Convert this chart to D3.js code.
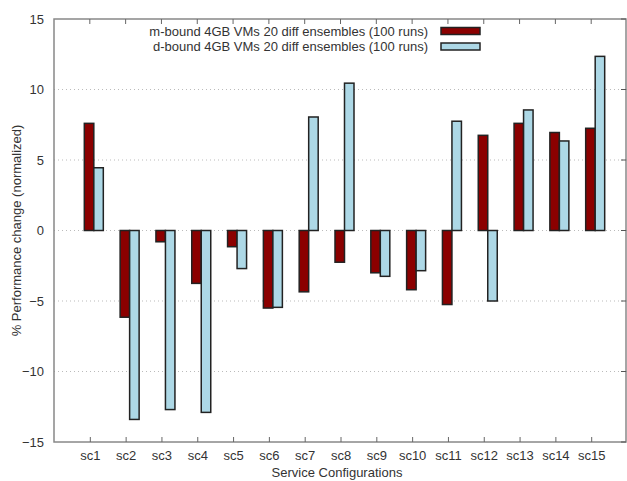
<!DOCTYPE html>
<html>
<head>
<meta charset="utf-8">
<script src="https://cdn.jsdelivr.net/npm/d3@7"></script>
<style>
  body { margin: 0; background: #fff; }
  text { font-family: "Liberation Sans", Arial, sans-serif; fill: #333; }
</style>
</head>
<body>
<svg id="chart" width="627" height="481"></svg>
<script>
var categories = ["sc1","sc2","sc3","sc4","sc5","sc6","sc7","sc8","sc9","sc10","sc11","sc12","sc13","sc14","sc15"];
var mBound = [7.6, -6.15, -0.8, -3.75, -1.15, -5.5, -4.35, -2.25, -3.0, -4.2, -5.25, 6.75, 7.6, 6.95, 7.25];
var dBound = [4.45, -13.4, -12.7, -12.9, -2.7, -5.45, 8.05, 10.45, -3.25, -2.85, 7.75, -5.0, 8.55, 6.35, 12.35];
var seriesNames = ["m-bound 4GB VMs 20 diff ensembles (100 runs)", "d-bound 4GB VMs 20 diff ensembles (100 runs)"];
var yTicks = [-15, -10, -5, 0, 5, 10, 15];
var colors = ["#8b0000", "#add8e6"];

var svg = d3.select("#chart");
// note: "top" clashes with window.top, so use plot* names
var plotL = 54, plotR = 627, plotT = 19, plotB = 442;

// x in category index units, gnuplot style range -1..15
var x = d3.scaleLinear().domain([-1, categories.length]).range([plotL, plotR]);
var y = d3.scaleLinear().domain([-15, 15]).range([plotB, plotT]);

// dotted grid
svg.append("g").selectAll("line")
  .data(yTicks.filter(function(d) { return d > -15 && d < 15; }))
  .enter().append("line")
  .attr("x1", plotL).attr("x2", plotR)
  .attr("y1", function(d) { return y(d); })
  .attr("y2", function(d) { return y(d); })
  .attr("stroke", "#bbb")
  .attr("stroke-width", 1)
  .attr("stroke-dasharray", "1,3");

// bars: red left of tick, blue right of it
var barW = 9.5;
var offsets = [-5.5, 4];
[mBound, dBound].forEach(function(vals, s) {
  svg.append("g").selectAll("rect")
    .data(vals)
    .enter().append("rect")
    .attr("x", function(d, i) { return x(i) + offsets[s]; })
    .attr("width", barW)
    .attr("y", function(d) { return y(Math.max(0, d)); })
    .attr("height", function(d) { return Math.abs(y(d) - y(0)); })
    .attr("fill", colors[s])
    .attr("stroke", "#222")
    .attr("stroke-width", 1.5);
});

// frame
svg.append("rect")
  .attr("x", plotL).attr("y", plotT)
  .attr("width", plotR - plotL - 1).attr("height", plotB - plotT)
  .attr("fill", "none").attr("stroke", "#888").attr("stroke-width", 1.5);

// y axis
var yAxis = d3.axisLeft(y).tickValues(yTicks).tickSize(0).tickPadding(10);
var gy = svg.append("g").attr("transform", "translate(" + plotL + ",0)").call(yAxis);
gy.select(".domain").remove();
gy.selectAll("text").style("font-size", "13px").style("fill", "#333")
  .style("font-family", "Liberation Sans, Arial, sans-serif");

// right-side inward ticks
svg.append("g").selectAll("line")
  .data(yTicks).enter().append("line")
  .attr("x1", plotR - 6).attr("x2", plotR - 1)
  .attr("y1", function(d) { return y(d); }).attr("y2", function(d) { return y(d); })
  .attr("stroke", "#555").attr("stroke-width", 1);

// x axis
var xAxis = d3.axisBottom(x)
  .tickValues(d3.range(categories.length))
  .tickFormat(function(i) { return categories[i]; })
  .tickSize(-5).tickPadding(9);
var gx = svg.append("g").attr("transform", "translate(0," + plotB + ")").call(xAxis);
gx.select(".domain").remove();
gx.selectAll("line").attr("stroke", "#666");
gx.selectAll("text").style("font-size", "13px").style("fill", "#333")
  .style("font-family", "Liberation Sans, Arial, sans-serif");

// top inward ticks
svg.append("g").selectAll("line")
  .data(d3.range(categories.length)).enter().append("line")
  .attr("x1", function(i) { return x(i); }).attr("x2", function(i) { return x(i); })
  .attr("y1", plotT).attr("y2", plotT + 5)
  .attr("stroke", "#666").attr("stroke-width", 1);

// axis titles
svg.append("text")
  .attr("x", 337).attr("y", 477)
  .attr("text-anchor", "middle")
  .style("font-size", "13px")
  .text("Service Configurations");

svg.append("text")
  .attr("transform", "translate(21," + y(0) + ") rotate(-90)")
  .attr("text-anchor", "middle")
  .style("font-size", "13px")
  .text("% Performance change (normalized)");

// legend
var legend = svg.append("g");
seriesNames.forEach(function(name, s) {
  var cy = 31 + s * 15.5;
  legend.append("text")
    .attr("x", 428).attr("y", cy + 4.5)
    .attr("text-anchor", "end")
    .style("font-size", "13px")
    .text(name);
  legend.append("rect")
    .attr("x", 441).attr("y", cy - 3.5)
    .attr("width", 39).attr("height", 7)
    .attr("fill", colors[s])
    .attr("stroke", "#222").attr("stroke-width", 1.5);
});
</script>
</body>
</html>
